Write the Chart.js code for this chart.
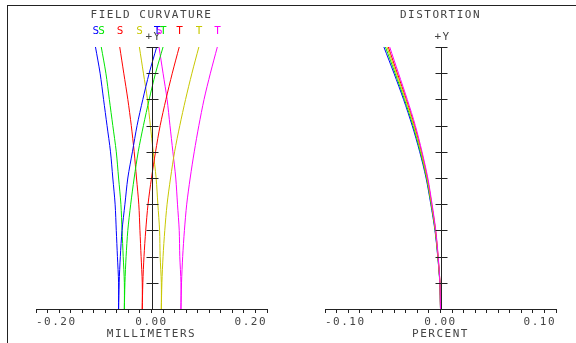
<!DOCTYPE html>
<html><head><meta charset="utf-8">
<script src="https://cdn.jsdelivr.net/npm/chart.js@4"></script>
<style>
html,body{margin:0;padding:0;background:#fff;width:576px;height:343px;overflow:hidden;}
#frame{position:absolute;left:7px;top:5px;width:600px;height:400px;border-top:1px solid #222;border-left:1px solid #222;}
canvas{position:absolute;top:0;}
#fc{left:0}
#dist{left:288px}
</style></head><body>
<div id="frame"></div>
<canvas id="fc" width="288" height="343"></canvas>
<canvas id="dist" width="288" height="343"></canvas>
<script>
// ---- data ----
const fieldHeights = [0, 0.1, 0.2, 0.3, 0.4, 0.5, 0.6, 0.7, 0.8, 0.9, 1.0];
const fieldTicks = [0.1, 0.2, 0.3, 0.4, 0.5, 0.6, 0.7, 0.8, 0.9, 1.0];
const wavelengthColors = ['#0000ff', '#00e600', '#ff0000', '#c8c800', '#ff00ff'];
const seriesLabels = ['S', 'T'];

// field curvature, millimetres (sagittal)
const sagBlue    = [-0.057, -0.057, -0.059, -0.061, -0.063, -0.067, -0.071, -0.077, -0.083, -0.089, -0.097];
const sagGreen   = [-0.047, -0.047, -0.049, -0.051, -0.053, -0.057, -0.061, -0.067, -0.073, -0.079, -0.087];
const sagRed     = [-0.016, -0.016, -0.018, -0.020, -0.022, -0.026, -0.030, -0.035, -0.041, -0.048, -0.055];
const sagYellow  = [0.017, 0.017, 0.015, 0.014, 0.011, 0.008, 0.003, -0.002, -0.007, -0.014, -0.021];
const sagMagenta = [0.051, 0.051, 0.049, 0.048, 0.045, 0.042, 0.037, 0.032, 0.027, 0.020, 0.013];
// field curvature, millimetres (tangential)
const tanBlue    = [-0.057, -0.056, -0.054, -0.051, -0.046, -0.041, -0.033, -0.025, -0.015, -0.004, 0.009];
const tanGreen   = [-0.047, -0.046, -0.044, -0.041, -0.036, -0.030, -0.023, -0.014, -0.004, 0.007, 0.020];
const tanRed     = [-0.016, -0.015, -0.013, -0.010, -0.006, 0.000, 0.007, 0.015, 0.025, 0.036, 0.048];
const tanYellow  = [0.017, 0.018, 0.020, 0.023, 0.027, 0.033, 0.040, 0.049, 0.059, 0.070, 0.082];
const tanMagenta = [0.051, 0.052, 0.054, 0.057, 0.061, 0.067, 0.074, 0.082, 0.091, 0.102, 0.114];

// distortion, percent
const distBlue    = [0, -0.0006, -0.0024, -0.0048, -0.0084, -0.0125, -0.0180, -0.0245, -0.0320, -0.0403, -0.0490];
const distGreen   = [0, -0.0006, -0.0023, -0.0046, -0.0081, -0.0121, -0.0175, -0.0238, -0.0312, -0.0393, -0.0477];
const distRed     = [0, -0.0005, -0.0021, -0.0043, -0.0076, -0.0114, -0.0165, -0.0225, -0.0296, -0.0374, -0.0452];
const distYellow  = [0, -0.0005, -0.0022, -0.0044, -0.0078, -0.0117, -0.0169, -0.0231, -0.0303, -0.0383, -0.0464];
const distMagenta = [0, -0.0005, -0.0020, -0.0041, -0.0073, -0.0110, -0.0160, -0.0218, -0.0288, -0.0364, -0.0440];

const fcTickValues = [-0.2, 0, 0.2];
const fcTickLabels = ['-0.20', '0.00', '0.20'];
const distTickValues = [-0.1, 0, 0.1];
const distTickLabels = ['-0.10', '0.00', '0.10'];

// ---- styling ----
const FONT = 'DejaVu Sans Mono';
const TEXT = '#444444';
const AXIS = '#222222';
const LS = '1.5px';
Chart.defaults.font.family = FONT;
Chart.defaults.font.size = 11;
Chart.defaults.color = TEXT;

function pts(vals) { return vals.map((v, i) => ({ x: v, y: fieldHeights[i] })); }
function ds(vals, color, label, order) {
  return { label, data: pts(vals), showLine: true, borderColor: color, backgroundColor: color,
           borderWidth: 1, pointRadius: 0, tension: 0.3, fill: false, order };
}

const sagSets = [sagBlue, sagGreen, sagRed, sagYellow, sagMagenta];
const tanSets = [tanBlue, tanGreen, tanRed, tanYellow, tanMagenta];
const distSets = [distBlue, distGreen, distRed, distYellow, distMagenta];

const fcDatasets = [];
sagSets.forEach((s, i) => fcDatasets.push(ds(s, wavelengthColors[i], seriesLabels[0], 10 - i)));
tanSets.forEach((s, i) => fcDatasets.push(ds(s, wavelengthColors[i], seriesLabels[1], 5 - i)));
const distDatasets = distSets.map((s, i) => ds(s, wavelengthColors[i], 'D', 5 - i));

function centerAxisPlugin(showLegend) {
  return {
    id: 'centerAxis',
    beforeUpdate(chart) { chart.ctx.letterSpacing = LS; },
    beforeDraw(chart) { chart.ctx.letterSpacing = LS; },
    afterDatasetsDraw(chart) {
      const { ctx, scales: { x, y } } = chart;
      const ax = Math.round(x.getPixelForValue(0)) + 0.5;
      ctx.save();
      ctx.strokeStyle = AXIS; ctx.lineWidth = 1;
      ctx.beginPath();
      ctx.moveTo(ax, y.getPixelForValue(1));
      ctx.lineTo(ax, y.getPixelForValue(0));
      for (const v of fieldTicks) {
        const py = Math.round(y.getPixelForValue(v)) + 0.5;
        ctx.moveTo(ax - 6, py); ctx.lineTo(ax + 6, py);
      }
      ctx.stroke();
      ctx.font = '11px "' + FONT + '"';
      ctx.textAlign = 'center'; ctx.textBaseline = 'middle';
      ctx.fillStyle = TEXT;
      ctx.fillText('+Y', ax + 1, 37);
      if (showLegend) {
        chart.data.datasets.forEach(d => {
          const last = d.data[d.data.length - 1];
          ctx.fillStyle = d.borderColor;
          ctx.fillText(d.label, x.getPixelForValue(last.x) + 1, 31);
        });
      }
      ctx.restore();
    }
  };
}

function makeChart(id, datasets, min, max, tickValues, tickLabels, title, axisTitle, padL, padR, legend) {
  return new Chart(document.getElementById(id), {
    type: 'scatter',
    data: { datasets },
    options: {
      responsive: false, animation: false, devicePixelRatio: 1,
      layout: { padding: { left: padL, right: padR, top: 0, bottom: 0 } },
      plugins: {
        legend: { display: false }, tooltip: { enabled: false },
        title: { display: true, text: title, fullSize: false, color: TEXT,
                 font: { size: 11, family: FONT, weight: 'normal', lineHeight: 1.2 },
                 padding: { top: 9, bottom: 24.8 } }
      },
      scales: {
        x: {
          type: 'linear', min, max,
          border: { display: true, color: AXIS, width: 1 },
          grid: { display: true, drawOnChartArea: false, drawTicks: true, tickLength: 4, color: AXIS },
          ticks: { count: 21, autoSkip: false, maxRotation: 0, padding: 3, color: TEXT, align: 'inner',
                   font: { size: 11, family: FONT, lineHeight: 1.2 },
                   callback: (v) => { const i = tickValues.findIndex(t => Math.abs(t - v) < 1e-9); return i >= 0 ? tickLabels[i] : ''; } },
          title: { display: true, text: axisTitle, color: TEXT, font: { size: 11, family: FONT, lineHeight: 1.2 },
                   padding: { top: 0, bottom: 2 } },
          afterFit: (s) => { s.height = 34; }
        },
        y: { type: 'linear', min: 0, max: 1, display: false }
      }
    },
    plugins: [centerAxisPlugin(legend)]
  });
}

makeChart('fc', fcDatasets, -0.2, 0.2, fcTickValues, fcTickLabels, 'FIELD CURVATURE', 'MILLIMETERS', 36, 21, true);
makeChart('dist', distDatasets, -0.1, 0.1, distTickValues, distTickLabels, 'DISTORTION', 'PERCENT', 37, 20, false);
</script>
</body></html>
